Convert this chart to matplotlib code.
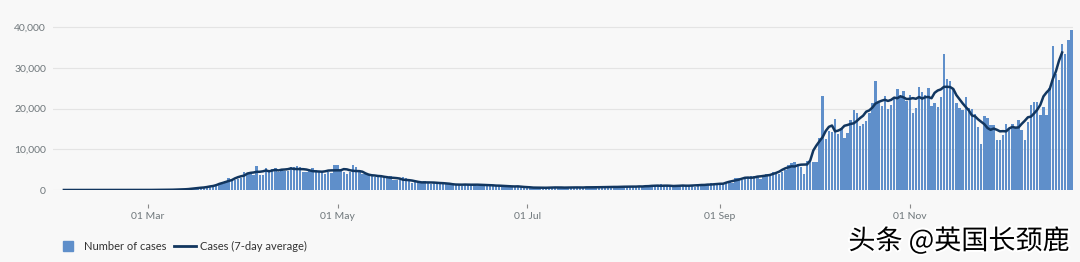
import numpy as np
import pandas as pd
import matplotlib
matplotlib.use("Agg")
import matplotlib.pyplot as plt
import matplotlib.dates as mdates
import matplotlib.patheffects as pe
from matplotlib.lines import Line2D
from matplotlib.ticker import FuncFormatter

# daily cases (by publish date), 31 Jan - 23 Dec 2020
jan = [2]
feb = [0, 0, 0, 0, 0, 1, 0, 0, 1, 4, 0, 1, 0, 0, 0, 0, 0, 0, 0, 0,
       0, 0, 0, 0, 4, 0, 2, 5, 3]
mar = [12, 4, 11, 34, 30, 48, 43, 67, 48, 61, 83, 134, 208, 342, 251, 152,
       407, 676, 643, 714, 1035, 665, 967, 1427, 1452, 2129, 2885, 2546,
       2433, 2619, 3009]
apr = [4324, 4244, 4450, 3735, 5903, 3802, 3634, 5491, 4344, 5195, 5288,
       4342, 5252, 4603, 4617, 5599, 5525, 5850, 5676, 4301, 4451, 4583,
       5386, 4913, 4463, 4309, 3996, 4310, 4076, 6032]
may = [6201, 4806, 4339, 3985, 4406, 6111, 5614, 4649, 3896, 3923, 3877,
       3403, 3242, 3446, 3560, 3451, 3142, 3534, 2412, 2472, 2615, 3287,
       2959, 2405, 1625, 2004, 2013, 1887, 2095, 1936, 1570]
jun = [1653, 1871, 1871, 1805, 1650, 1557, 1326, 1205, 1387, 1003, 1266,
       1541, 1425, 1514, 1056, 1279, 1115, 1218, 1346, 1295, 1221, 958,
       874, 653, 1118, 1006, 890, 901, 815, 689]
jul = [829, 576, 544, 624, 516, 352, 581, 630, 642, 512, 820, 650, 530,
       598, 538, 463, 687, 827, 726, 580, 445, 560, 769, 798, 767, 747,
       685, 581, 763, 846, 880]
aug = [771, 744, 938, 670, 892, 950, 871, 758, 1062, 816, 1148, 1009, 1441,
       1012, 1040, 713, 1089, 1182, 812, 1033, 1182, 1288, 1041, 853, 1184,
       1048, 1276, 1522, 1715, 1108, 1406]
sep = [1295, 1508, 1735, 1940, 1813, 2988, 2948, 2460, 2659, 2919, 3539,
       3497, 3330, 2621, 3105, 3991, 3395, 4322, 4422, 3899, 4368, 4926,
       6178, 6634, 6874, 6042, 5693, 4044, 7143, 7108]
oct_ = [6914, 6968, 12872, 22961, 12594, 14542, 14162, 17540, 13864, 15166,
        12872, 13972, 17234, 19724, 18980, 15650, 16171, 16982, 18804, 21331,
        26688, 21242, 20530, 23012, 19790, 20890, 22885, 24701, 23065, 24405,
        21915]
nov = [23254, 18950, 20018, 25177, 24141, 23287, 24957, 20572, 21350, 20412,
       22950, 33470, 27301, 26860, 24962, 21363, 20051, 19609, 22915, 20252,
       19875, 18662, 15450, 11299, 18213, 17555, 16022, 15871, 12155, 12330]
dec = [13430, 16170, 14879, 16298, 15539, 17272, 14718, 12282, 16578, 20964,
       21672, 21502, 18447, 20263, 18450, 25161, 35383, 28507, 27052, 35928,
       33364, 36804, 39237]

cases = jan + feb + mar + apr + may + jun + jul + aug + sep + oct_ + nov + dec
dates = pd.date_range("2020-01-31", periods=len(cases), freq="D")
avg = pd.Series(cases).rolling(7, center=True).mean()

tick_dates = ["2020-03-01", "2020-05-01", "2020-07-01", "2020-09-01", "2020-11-01"]
y_ticks = [0, 10000, 20000, 30000, 40000]

bg = "#f8f8f8"
bar_col = "#5f8fca"
line_col = "#12365f"
grey = "#6f777b"

plt.rcParams["font.family"] = ["Lato", "DejaVu Sans"]

fig = plt.figure(figsize=(10.8, 2.62), dpi=100, facecolor=bg)
ax = fig.add_axes([53/1080, 72/262, 1020/1080, 167/262])
ax.set_facecolor(bg)

ax.bar(dates, cases, width=0.78, color=bar_col, linewidth=0, zorder=2)
ax.plot(dates, avg, color=line_col, lw=1.8, zorder=3)

ax.set_ylim(0, 41000)
ax.set_yticks(y_ticks)
ax.yaxis.set_major_formatter(FuncFormatter(lambda v, p: f"{int(v):,}"))
ax.grid(axis="y", color="#e4e4e4", lw=0.8, zorder=0)
ax.set_xlim(pd.Timestamp("2020-01-30 12:00"), pd.Timestamp("2020-12-23 12:00"))
ax.set_xticks(pd.to_datetime(tick_dates))
ax.xaxis.set_major_formatter(mdates.DateFormatter("%d %b"))

for s in ["top", "right", "left"]:
    ax.spines[s].set_visible(False)
ax.spines["bottom"].set_position(("outward", 10))
ax.spines["bottom"].set_visible(False)
ax.tick_params(axis="x", length=3, width=0.8, color="#8a8a8a", pad=3,
               labelsize=7.5, labelcolor=grey)
ax.tick_params(axis="y", length=0, pad=5, labelsize=7.5, labelcolor=grey)

handles = [Line2D([], [], marker="s", ls="none", color=bar_col, markersize=7),
           Line2D([], [], color=line_col, lw=2)]
fig.legend(handles, ["Number of cases", "Cases (7-day average)"],
           loc="center left", bbox_to_anchor=(57/1080, 16/262), ncol=2,
           frameon=False, fontsize=8, handlelength=2, handletextpad=0.4,
           columnspacing=0.7, borderpad=0, borderaxespad=0, labelcolor="#333333")

fig.text(1070/1080, 21/262, "头条 @英国长颈鹿", ha="right", va="center",
         fontsize=19.5, color="black", family=["Noto Sans CJK SC", "DejaVu Sans"],
         path_effects=[pe.withStroke(linewidth=3, foreground="white")])

fig.savefig("out.png", dpi=100, facecolor=bg)
